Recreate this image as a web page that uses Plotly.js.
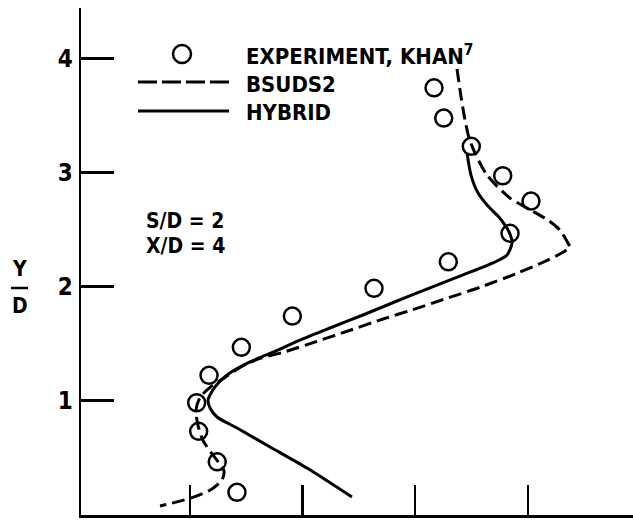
<!DOCTYPE html>
<html>
<head>
<meta charset="utf-8">
<script src="https://cdn.plot.ly/plotly-3.0.1.min.js"></script>
<style>
  html, body { margin: 0; padding: 0; background: #ffffff; }
  #chart { width: 633px; height: 528px; }
</style>
</head>
<body>
<div id="chart"></div>
<script>
// ---- Data ----
const expX = [3.167, 3.253, 3.498, 3.777, 4.028, 3.842, 3.294, 2.634, 1.909, 1.456, 1.169, 1.059, 1.077, 1.242, 1.417];
const expY = [3.744, 3.478, 3.230, 2.972, 2.750, 2.467, 2.217, 1.984, 1.741, 1.466, 1.221, 0.980, 0.729, 0.462, 0.194];

const bsudsX = [3.371, 3.407, 3.442, 3.478, 3.531, 3.638, 3.842, 4.028, 4.179, 4.286, 4.357, 4.375, 4.313, 4.135, 3.904, 3.575, 3.282, 2.980, 2.714, 2.421, 2.128, 1.826, 1.622, 1.444, 1.311, 1.178, 1.089, 1.053, 1.071, 1.115, 1.186, 1.258, 1.302, 1.284, 1.195, 1.062, 0.911, 0.734];
const bsudsY = [3.909, 3.664, 3.462, 3.304, 3.170, 2.977, 2.776, 2.670, 2.582, 2.494, 2.380, 2.345, 2.301, 2.213, 2.116, 1.993, 1.897, 1.797, 1.715, 1.616, 1.519, 1.422, 1.369, 1.290, 1.202, 1.115, 1.027, 0.913, 0.781, 0.650, 0.544, 0.451, 0.381, 0.302, 0.223, 0.162, 0.117, 0.074];

const hybridX = [3.460, 3.495, 3.558, 3.646, 3.735, 3.797, 3.842, 3.860, 3.815, 3.691, 3.425, 3.131, 2.838, 2.536, 2.243, 1.977, 1.737, 1.533, 1.329, 1.222, 1.160, 1.178, 1.240, 1.418, 1.711, 2.039, 2.438];
const hybridY = [3.171, 2.978, 2.820, 2.706, 2.618, 2.539, 2.461, 2.382, 2.277, 2.207, 2.102, 1.988, 1.873, 1.750, 1.636, 1.530, 1.424, 1.338, 1.224, 1.119, 1.004, 0.934, 0.855, 0.758, 0.592, 0.407, 0.153];

const yTickVals = [0, 1, 2, 3, 4];
const yTickText = ['0', '1', '2', '3', '4'];
const xTickVals = [1, 2, 3, 4];

const seriesNames = ['EXPERIMENT, KHAN<sup>7</sup>', 'BSUDS2', 'HYBRID'];
const annoTexts = ['S/D = 2', 'X/D = 4'];

// ---- Styling / layout ----
const FONT = 'DejaVu Sans Condensed, Liberation Sans Narrow, Arial Narrow, sans-serif';
const W = 633, H = 528;
const M = {l: 81, r: 0, t: 8, b: 13};
const PW = W - M.l - M.r, PH = H - M.t - M.b;
const px = x => (x - M.l) / PW;          // pixel -> paper x
const py = y => (H - M.b - y) / PH;      // pixel -> paper y

const traces = [
  {
    x: bsudsX, y: bsudsY, mode: 'lines', name: 'BSUDS2',
    line: {color: '#000', width: 3, dash: '13px,6px', shape: 'spline', smoothing: 0.7},
    hoverinfo: 'skip'
  },
  {
    x: hybridX, y: hybridY, mode: 'lines', name: 'HYBRID',
    line: {color: '#000', width: 3, shape: 'spline', smoothing: 0.7},
    hoverinfo: 'skip'
  },
  {
    x: expX, y: expY, mode: 'markers', name: 'EXPERIMENT, KHAN',
    marker: {symbol: 'circle-open', size: 17, color: '#000', line: {width: 2.5, color: '#000'}},
    hoverinfo: 'skip'
  }
];

const legFont = {family: FONT, size: 22, color: '#000', weight: 'bold'};
const noteFont = {family: FONT, size: 21, color: '#000', weight: 'bold'};
const ydFont = {family: FONT, size: 21, color: '#000', weight: 'bold'};

const rowsY = [55, 84, 112];
const annotations = [
  {text: seriesNames[0], x: px(244), y: py(rowsY[0]), xref: 'paper', yref: 'paper', xanchor: 'left', yanchor: 'middle', showarrow: false, font: legFont},
  {text: seriesNames[1], x: px(244), y: py(rowsY[1]), xref: 'paper', yref: 'paper', xanchor: 'left', yanchor: 'middle', showarrow: false, font: legFont},
  {text: seriesNames[2], x: px(244), y: py(rowsY[2]), xref: 'paper', yref: 'paper', xanchor: 'left', yanchor: 'middle', showarrow: false, font: legFont},
  {text: annoTexts[0], x: px(185), y: py(221), xref: 'paper', yref: 'paper', xanchor: 'center', yanchor: 'middle', showarrow: false, font: noteFont},
  {text: annoTexts[1], x: px(185), y: py(246), xref: 'paper', yref: 'paper', xanchor: 'center', yanchor: 'middle', showarrow: false, font: noteFont},
  {text: 'Y', x: px(19), y: py(269), xref: 'paper', yref: 'paper', xanchor: 'center', yanchor: 'middle', showarrow: false, font: ydFont},
  {text: 'D', x: px(20), y: py(306), xref: 'paper', yref: 'paper', xanchor: 'center', yanchor: 'middle', showarrow: false, font: ydFont}
];

const shapes = [
  // legend: circle
  {type: 'circle', xref: 'paper', yref: 'paper', xsizemode: 'pixel', ysizemode: 'pixel',
   xanchor: px(182), yanchor: py(rowsY[0] - 1), x0: -9, x1: 9, y0: -9, y1: 9,
   line: {color: '#000', width: 2.5}, fillcolor: 'rgba(0,0,0,0)'},
  // legend: dashed
  {type: 'line', xref: 'paper', yref: 'paper', x0: px(138), x1: px(229), y0: py(rowsY[1] - 2), y1: py(rowsY[1] - 2),
   line: {color: '#000', width: 3, dash: '19px,5px'}},
  // legend: solid
  {type: 'line', xref: 'paper', yref: 'paper', x0: px(138), x1: px(229), y0: py(rowsY[2] - 1), y1: py(rowsY[2] - 1),
   line: {color: '#000', width: 3}},
  // Y/D fraction bar
  {type: 'line', xref: 'paper', yref: 'paper', x0: px(11), x1: px(28), y0: py(288), y1: py(288),
   line: {color: '#000', width: 2.5}}
];

const layout = {
  width: W, height: H,
  margin: {l: M.l, r: M.r, t: M.t, b: M.b, pad: 0},
  paper_bgcolor: '#fff', plot_bgcolor: '#fff',
  showlegend: false,
  xaxis: {
    range: [0.032, 4.934], showline: true, linecolor: '#000', linewidth: 2.5,
    ticks: 'inside', ticklen: 30, tickwidth: 2.5, tickcolor: '#000',
    tickmode: 'array', tickvals: xTickVals, showticklabels: false,
    showgrid: false, zeroline: false, fixedrange: true
  },
  yaxis: {
    range: [-0.005, 4.444], showline: true, linecolor: '#000', linewidth: 2.5,
    ticks: 'inside', ticklen: 33, tickwidth: 2.5, tickcolor: '#000',
    tickmode: 'array', tickvals: yTickVals, ticktext: yTickText,
    tickfont: {family: FONT, size: 24, color: '#000', weight: 'bold'},
    ticklabelstandoff: 1,
    showgrid: false, zeroline: false, fixedrange: true
  },
  annotations: annotations,
  shapes: shapes
};

Plotly.newPlot('chart', traces, layout, {displayModeBar: false, staticPlot: true});
</script>
</body>
</html>
